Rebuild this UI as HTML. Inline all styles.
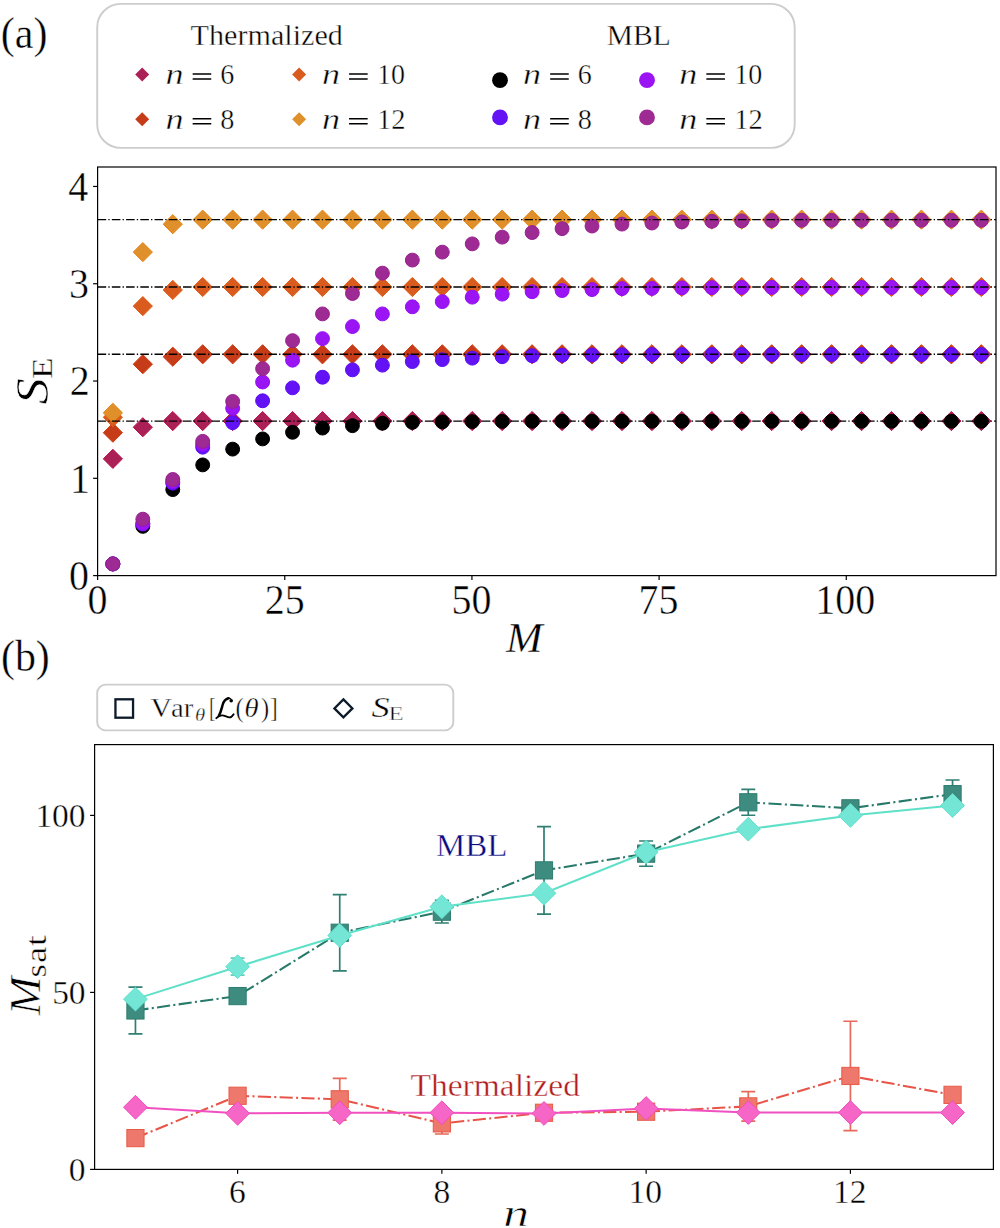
<!DOCTYPE html>
<html><head><meta charset="utf-8"><style>
html,body{margin:0;padding:0;background:#fff;}
body{width:1000px;height:1228px;overflow:hidden;font-family:"Liberation Serif",serif;}
svg{display:block;}
svg text{font-family:"Liberation Serif",serif;font-kerning:none;stroke:#fff;stroke-width:0.4px;}
</style></head><body>
<svg width="1000" height="1228" viewBox="0 0 1000 1228">
<rect width="1000" height="1228" fill="#fff"/>
<text transform="translate(0.75,48.30) scale(0.9673,1)" font-size="43.50" font-style="normal" fill="#000">(a)</text>
<rect x="97.2" y="3.9" width="697.5" height="144.0" rx="23.5" ry="23.5" fill="#fff" stroke="#cdcdcd" stroke-width="1.9"/>
<text transform="translate(190.56,45.40) scale(1.0438,1)" font-size="28.90" font-style="normal" fill="#000">Thermalized</text>
<text transform="translate(606.75,44.60) scale(1.0223,1)" font-size="28.90" font-style="normal" fill="#000">MBL</text>
<path d="M142.20 67.60L149.20 74.60L142.20 81.60L135.20 74.60Z" fill="#ab2157"/>
<text transform="translate(165.51,84.00) scale(1.2740,1)" font-size="28.40" font-style="italic" fill="#000">n</text>
<path d="M192.65 73.20h18.6v1.55h-18.6zM192.65 78.20h18.6v1.55h-18.6z" fill="#000"/>
<text transform="translate(220.19,84.00) scale(0.9890,1)" font-size="28.40" font-style="normal" fill="#000">6</text>
<path d="M142.20 112.20L149.20 119.20L142.20 126.20L135.20 119.20Z" fill="#c63c18"/>
<text transform="translate(165.51,128.80) scale(1.2740,1)" font-size="28.40" font-style="italic" fill="#000">n</text>
<path d="M192.65 118.00h18.6v1.55h-18.6zM192.65 123.00h18.6v1.55h-18.6z" fill="#000"/>
<text transform="translate(220.32,128.80) scale(0.9969,1)" font-size="28.40" font-style="normal" fill="#000">8</text>
<path d="M299.10 67.60L306.10 74.60L299.10 81.60L292.10 74.60Z" fill="#d95c1e"/>
<text transform="translate(321.91,84.00) scale(1.2740,1)" font-size="28.40" font-style="italic" fill="#000">n</text>
<path d="M349.05 73.20h18.6v1.55h-18.6zM349.05 78.20h18.6v1.55h-18.6z" fill="#000"/>
<text transform="translate(377.04,84.00) scale(0.9870,1)" font-size="28.40" font-style="normal" fill="#000">10</text>
<path d="M299.10 112.20L306.10 119.20L299.10 126.20L292.10 119.20Z" fill="#e0902b"/>
<text transform="translate(321.91,128.80) scale(1.2740,1)" font-size="28.40" font-style="italic" fill="#000">n</text>
<path d="M349.05 118.00h18.6v1.55h-18.6zM349.05 123.00h18.6v1.55h-18.6z" fill="#000"/>
<text transform="translate(376.99,128.80) scale(1.0067,1)" font-size="28.40" font-style="normal" fill="#000">12</text>
<circle cx="500.00" cy="80.20" r="7.9" fill="#000000"/>
<text transform="translate(523.01,84.00) scale(1.2740,1)" font-size="28.40" font-style="italic" fill="#000">n</text>
<path d="M550.15 73.20h18.6v1.55h-18.6zM550.15 78.20h18.6v1.55h-18.6z" fill="#000"/>
<text transform="translate(577.69,84.00) scale(0.9890,1)" font-size="28.40" font-style="normal" fill="#000">6</text>
<circle cx="500.00" cy="117.40" r="7.9" fill="#6312f6"/>
<text transform="translate(523.01,128.80) scale(1.2740,1)" font-size="28.40" font-style="italic" fill="#000">n</text>
<path d="M550.15 118.00h18.6v1.55h-18.6zM550.15 123.00h18.6v1.55h-18.6z" fill="#000"/>
<text transform="translate(577.82,128.80) scale(0.9969,1)" font-size="28.40" font-style="normal" fill="#000">8</text>
<circle cx="647.00" cy="80.20" r="7.9" fill="#9a14f4"/>
<text transform="translate(679.21,84.00) scale(1.2740,1)" font-size="28.40" font-style="italic" fill="#000">n</text>
<path d="M706.35 73.20h18.6v1.55h-18.6zM706.35 78.20h18.6v1.55h-18.6z" fill="#000"/>
<text transform="translate(734.34,84.00) scale(0.9870,1)" font-size="28.40" font-style="normal" fill="#000">10</text>
<circle cx="647.00" cy="117.40" r="7.9" fill="#9e2a93"/>
<text transform="translate(679.21,128.80) scale(1.2740,1)" font-size="28.40" font-style="italic" fill="#000">n</text>
<path d="M706.35 118.00h18.6v1.55h-18.6zM706.35 123.00h18.6v1.55h-18.6z" fill="#000"/>
<text transform="translate(734.29,128.80) scale(1.0067,1)" font-size="28.40" font-style="normal" fill="#000">12</text>
<g stroke="#000" stroke-width="1.2" fill="none">
<rect x="97.60" y="167.00" width="898.40" height="408.60"/>
<line x1="97.60" y1="575.60" x2="97.60" y2="580.10"/>
<line x1="284.77" y1="575.60" x2="284.77" y2="580.10"/>
<line x1="471.93" y1="575.60" x2="471.93" y2="580.10"/>
<line x1="659.10" y1="575.60" x2="659.10" y2="580.10"/>
<line x1="846.27" y1="575.60" x2="846.27" y2="580.10"/>
<line x1="93.10" y1="575.60" x2="97.60" y2="575.60"/>
<line x1="93.10" y1="478.31" x2="97.60" y2="478.31"/>
<line x1="93.10" y1="381.03" x2="97.60" y2="381.03"/>
<line x1="93.10" y1="283.74" x2="97.60" y2="283.74"/>
<line x1="93.10" y1="186.46" x2="97.60" y2="186.46"/>
</g>
<text transform="translate(87.62,614.30) scale(0.9550,1)" font-size="41.80" font-style="normal" fill="#000">0</text>
<text transform="translate(264.71,614.30) scale(0.9550,1)" font-size="41.80" font-style="normal" fill="#000">25</text>
<text transform="translate(451.57,614.30) scale(0.9550,1)" font-size="41.80" font-style="normal" fill="#000">50</text>
<text transform="translate(638.60,614.30) scale(0.9550,1)" font-size="41.80" font-style="normal" fill="#000">75</text>
<text transform="translate(815.33,614.30) scale(0.9550,1)" font-size="41.80" font-style="normal" fill="#000">100</text>
<text transform="translate(69.04,590.00) scale(0.9700,1)" font-size="41.20" font-style="normal" fill="#000">0</text>
<text transform="translate(69.92,492.71) scale(0.9700,1)" font-size="41.20" font-style="normal" fill="#000">1</text>
<text transform="translate(69.72,395.43) scale(0.9700,1)" font-size="41.20" font-style="normal" fill="#000">2</text>
<text transform="translate(69.08,298.14) scale(0.9700,1)" font-size="41.20" font-style="normal" fill="#000">3</text>
<text transform="translate(68.14,200.86) scale(0.9700,1)" font-size="41.20" font-style="normal" fill="#000">4</text>
<text transform="translate(506.12,652.00) scale(1.0657,1)" font-size="41.30" font-style="italic" fill="#000">M</text>
<text transform="translate(47.60,404.00) rotate(-90) translate(-0.62,0) scale(1.1265,1)" font-size="47.00" font-style="italic" fill="#000" style="stroke-width:0.55px">S</text>
<text transform="translate(52.00,378.00) rotate(-90) translate(-1.03,0) scale(1.2310,1)" font-size="29.00" font-style="normal" fill="#000">E</text>
<g>
<path d="M112.87 449.26L122.47 458.86L112.87 468.46L103.27 458.86Z" fill="#ab2157" stroke="#b81247" stroke-width="1"/>
<path d="M142.82 417.64L152.42 427.24L142.82 436.84L133.22 427.24Z" fill="#ab2157" stroke="#b81247" stroke-width="1"/>
<path d="M172.77 411.46L182.37 421.06L172.77 430.66L163.17 421.06Z" fill="#ab2157" stroke="#b81247" stroke-width="1"/>
<path d="M202.71 411.46L212.31 421.06L202.71 430.66L193.11 421.06Z" fill="#ab2157" stroke="#b81247" stroke-width="1"/>
<path d="M232.66 411.46L242.26 421.06L232.66 430.66L223.06 421.06Z" fill="#ab2157" stroke="#b81247" stroke-width="1"/>
<path d="M262.61 411.46L272.21 421.06L262.61 430.66L253.01 421.06Z" fill="#ab2157" stroke="#b81247" stroke-width="1"/>
<path d="M292.55 411.46L302.15 421.06L292.55 430.66L282.95 421.06Z" fill="#ab2157" stroke="#b81247" stroke-width="1"/>
<path d="M322.50 411.46L332.10 421.06L322.50 430.66L312.90 421.06Z" fill="#ab2157" stroke="#b81247" stroke-width="1"/>
<path d="M352.45 411.46L362.05 421.06L352.45 430.66L342.85 421.06Z" fill="#ab2157" stroke="#b81247" stroke-width="1"/>
<path d="M382.39 411.46L391.99 421.06L382.39 430.66L372.79 421.06Z" fill="#ab2157" stroke="#b81247" stroke-width="1"/>
<path d="M412.34 411.46L421.94 421.06L412.34 430.66L402.74 421.06Z" fill="#ab2157" stroke="#b81247" stroke-width="1"/>
<path d="M442.29 411.46L451.89 421.06L442.29 430.66L432.69 421.06Z" fill="#ab2157" stroke="#b81247" stroke-width="1"/>
<path d="M472.23 411.46L481.83 421.06L472.23 430.66L462.63 421.06Z" fill="#ab2157" stroke="#b81247" stroke-width="1"/>
<path d="M502.18 411.46L511.78 421.06L502.18 430.66L492.58 421.06Z" fill="#ab2157" stroke="#b81247" stroke-width="1"/>
<path d="M532.13 411.46L541.73 421.06L532.13 430.66L522.53 421.06Z" fill="#ab2157" stroke="#b81247" stroke-width="1"/>
<path d="M562.07 411.46L571.67 421.06L562.07 430.66L552.47 421.06Z" fill="#ab2157" stroke="#b81247" stroke-width="1"/>
<path d="M592.02 411.46L601.62 421.06L592.02 430.66L582.42 421.06Z" fill="#ab2157" stroke="#b81247" stroke-width="1"/>
<path d="M621.97 411.46L631.57 421.06L621.97 430.66L612.37 421.06Z" fill="#ab2157" stroke="#b81247" stroke-width="1"/>
<path d="M651.91 411.46L661.51 421.06L651.91 430.66L642.31 421.06Z" fill="#ab2157" stroke="#b81247" stroke-width="1"/>
<path d="M681.86 411.46L691.46 421.06L681.86 430.66L672.26 421.06Z" fill="#ab2157" stroke="#b81247" stroke-width="1"/>
<path d="M711.81 411.46L721.41 421.06L711.81 430.66L702.21 421.06Z" fill="#ab2157" stroke="#b81247" stroke-width="1"/>
<path d="M741.75 411.46L751.35 421.06L741.75 430.66L732.15 421.06Z" fill="#ab2157" stroke="#b81247" stroke-width="1"/>
<path d="M771.70 411.46L781.30 421.06L771.70 430.66L762.10 421.06Z" fill="#ab2157" stroke="#b81247" stroke-width="1"/>
<path d="M801.65 411.46L811.25 421.06L801.65 430.66L792.05 421.06Z" fill="#ab2157" stroke="#b81247" stroke-width="1"/>
<path d="M831.59 411.46L841.19 421.06L831.59 430.66L821.99 421.06Z" fill="#ab2157" stroke="#b81247" stroke-width="1"/>
<path d="M861.54 411.46L871.14 421.06L861.54 430.66L851.94 421.06Z" fill="#ab2157" stroke="#b81247" stroke-width="1"/>
<path d="M891.49 411.46L901.09 421.06L891.49 430.66L881.89 421.06Z" fill="#ab2157" stroke="#b81247" stroke-width="1"/>
<path d="M921.43 411.46L931.03 421.06L921.43 430.66L911.83 421.06Z" fill="#ab2157" stroke="#b81247" stroke-width="1"/>
<path d="M951.38 411.46L960.98 421.06L951.38 430.66L941.78 421.06Z" fill="#ab2157" stroke="#b81247" stroke-width="1"/>
<path d="M981.33 411.46L990.93 421.06L981.33 430.66L971.73 421.06Z" fill="#ab2157" stroke="#b81247" stroke-width="1"/>
<path d="M112.87 423.09L122.47 432.69L112.87 442.29L103.27 432.69Z" fill="#c63c18" stroke="#d23a12" stroke-width="1"/>
<path d="M142.82 354.60L152.42 364.20L142.82 373.80L133.22 364.20Z" fill="#c63c18" stroke="#d23a12" stroke-width="1"/>
<path d="M172.77 347.11L182.37 356.71L172.77 366.31L163.17 356.71Z" fill="#c63c18" stroke="#d23a12" stroke-width="1"/>
<path d="M202.71 344.68L212.31 354.28L202.71 363.88L193.11 354.28Z" fill="#c63c18" stroke="#d23a12" stroke-width="1"/>
<path d="M232.66 344.68L242.26 354.28L232.66 363.88L223.06 354.28Z" fill="#c63c18" stroke="#d23a12" stroke-width="1"/>
<path d="M262.61 344.68L272.21 354.28L262.61 363.88L253.01 354.28Z" fill="#c63c18" stroke="#d23a12" stroke-width="1"/>
<path d="M292.55 344.68L302.15 354.28L292.55 363.88L282.95 354.28Z" fill="#c63c18" stroke="#d23a12" stroke-width="1"/>
<path d="M322.50 344.68L332.10 354.28L322.50 363.88L312.90 354.28Z" fill="#c63c18" stroke="#d23a12" stroke-width="1"/>
<path d="M352.45 344.68L362.05 354.28L352.45 363.88L342.85 354.28Z" fill="#c63c18" stroke="#d23a12" stroke-width="1"/>
<path d="M382.39 344.68L391.99 354.28L382.39 363.88L372.79 354.28Z" fill="#c63c18" stroke="#d23a12" stroke-width="1"/>
<path d="M412.34 344.68L421.94 354.28L412.34 363.88L402.74 354.28Z" fill="#c63c18" stroke="#d23a12" stroke-width="1"/>
<path d="M442.29 344.68L451.89 354.28L442.29 363.88L432.69 354.28Z" fill="#c63c18" stroke="#d23a12" stroke-width="1"/>
<path d="M472.23 344.68L481.83 354.28L472.23 363.88L462.63 354.28Z" fill="#c63c18" stroke="#d23a12" stroke-width="1"/>
<path d="M502.18 344.68L511.78 354.28L502.18 363.88L492.58 354.28Z" fill="#c63c18" stroke="#d23a12" stroke-width="1"/>
<path d="M532.13 344.68L541.73 354.28L532.13 363.88L522.53 354.28Z" fill="#c63c18" stroke="#d23a12" stroke-width="1"/>
<path d="M562.07 344.68L571.67 354.28L562.07 363.88L552.47 354.28Z" fill="#c63c18" stroke="#d23a12" stroke-width="1"/>
<path d="M592.02 344.68L601.62 354.28L592.02 363.88L582.42 354.28Z" fill="#c63c18" stroke="#d23a12" stroke-width="1"/>
<path d="M621.97 344.68L631.57 354.28L621.97 363.88L612.37 354.28Z" fill="#c63c18" stroke="#d23a12" stroke-width="1"/>
<path d="M651.91 344.68L661.51 354.28L651.91 363.88L642.31 354.28Z" fill="#c63c18" stroke="#d23a12" stroke-width="1"/>
<path d="M681.86 344.68L691.46 354.28L681.86 363.88L672.26 354.28Z" fill="#c63c18" stroke="#d23a12" stroke-width="1"/>
<path d="M711.81 344.68L721.41 354.28L711.81 363.88L702.21 354.28Z" fill="#c63c18" stroke="#d23a12" stroke-width="1"/>
<path d="M741.75 344.68L751.35 354.28L741.75 363.88L732.15 354.28Z" fill="#c63c18" stroke="#d23a12" stroke-width="1"/>
<path d="M771.70 344.68L781.30 354.28L771.70 363.88L762.10 354.28Z" fill="#c63c18" stroke="#d23a12" stroke-width="1"/>
<path d="M801.65 344.68L811.25 354.28L801.65 363.88L792.05 354.28Z" fill="#c63c18" stroke="#d23a12" stroke-width="1"/>
<path d="M831.59 344.68L841.19 354.28L831.59 363.88L821.99 354.28Z" fill="#c63c18" stroke="#d23a12" stroke-width="1"/>
<path d="M861.54 344.68L871.14 354.28L861.54 363.88L851.94 354.28Z" fill="#c63c18" stroke="#d23a12" stroke-width="1"/>
<path d="M891.49 344.68L901.09 354.28L891.49 363.88L881.89 354.28Z" fill="#c63c18" stroke="#d23a12" stroke-width="1"/>
<path d="M921.43 344.68L931.03 354.28L921.43 363.88L911.83 354.28Z" fill="#c63c18" stroke="#d23a12" stroke-width="1"/>
<path d="M951.38 344.68L960.98 354.28L951.38 363.88L941.78 354.28Z" fill="#c63c18" stroke="#d23a12" stroke-width="1"/>
<path d="M981.33 344.68L990.93 354.28L981.33 363.88L971.73 354.28Z" fill="#c63c18" stroke="#d23a12" stroke-width="1"/>
<path d="M112.87 407.72L122.47 417.32L112.87 426.92L103.27 417.32Z" fill="#d95c1e" stroke="#e25a14" stroke-width="1"/>
<path d="M142.82 296.52L152.42 306.12L142.82 315.72L133.22 306.12Z" fill="#d95c1e" stroke="#e25a14" stroke-width="1"/>
<path d="M172.77 280.37L182.37 289.97L172.77 299.57L163.17 289.97Z" fill="#d95c1e" stroke="#e25a14" stroke-width="1"/>
<path d="M202.71 277.42L212.31 287.02L202.71 296.62L193.11 287.02Z" fill="#d95c1e" stroke="#e25a14" stroke-width="1"/>
<path d="M232.66 277.42L242.26 287.02L232.66 296.62L223.06 287.02Z" fill="#d95c1e" stroke="#e25a14" stroke-width="1"/>
<path d="M262.61 277.42L272.21 287.02L262.61 296.62L253.01 287.02Z" fill="#d95c1e" stroke="#e25a14" stroke-width="1"/>
<path d="M292.55 277.42L302.15 287.02L292.55 296.62L282.95 287.02Z" fill="#d95c1e" stroke="#e25a14" stroke-width="1"/>
<path d="M322.50 277.42L332.10 287.02L322.50 296.62L312.90 287.02Z" fill="#d95c1e" stroke="#e25a14" stroke-width="1"/>
<path d="M352.45 277.42L362.05 287.02L352.45 296.62L342.85 287.02Z" fill="#d95c1e" stroke="#e25a14" stroke-width="1"/>
<path d="M382.39 277.42L391.99 287.02L382.39 296.62L372.79 287.02Z" fill="#d95c1e" stroke="#e25a14" stroke-width="1"/>
<path d="M412.34 277.42L421.94 287.02L412.34 296.62L402.74 287.02Z" fill="#d95c1e" stroke="#e25a14" stroke-width="1"/>
<path d="M442.29 277.42L451.89 287.02L442.29 296.62L432.69 287.02Z" fill="#d95c1e" stroke="#e25a14" stroke-width="1"/>
<path d="M472.23 277.42L481.83 287.02L472.23 296.62L462.63 287.02Z" fill="#d95c1e" stroke="#e25a14" stroke-width="1"/>
<path d="M502.18 277.42L511.78 287.02L502.18 296.62L492.58 287.02Z" fill="#d95c1e" stroke="#e25a14" stroke-width="1"/>
<path d="M532.13 277.42L541.73 287.02L532.13 296.62L522.53 287.02Z" fill="#d95c1e" stroke="#e25a14" stroke-width="1"/>
<path d="M562.07 277.42L571.67 287.02L562.07 296.62L552.47 287.02Z" fill="#d95c1e" stroke="#e25a14" stroke-width="1"/>
<path d="M592.02 277.42L601.62 287.02L592.02 296.62L582.42 287.02Z" fill="#d95c1e" stroke="#e25a14" stroke-width="1"/>
<path d="M621.97 277.42L631.57 287.02L621.97 296.62L612.37 287.02Z" fill="#d95c1e" stroke="#e25a14" stroke-width="1"/>
<path d="M651.91 277.42L661.51 287.02L651.91 296.62L642.31 287.02Z" fill="#d95c1e" stroke="#e25a14" stroke-width="1"/>
<path d="M681.86 277.42L691.46 287.02L681.86 296.62L672.26 287.02Z" fill="#d95c1e" stroke="#e25a14" stroke-width="1"/>
<path d="M711.81 277.42L721.41 287.02L711.81 296.62L702.21 287.02Z" fill="#d95c1e" stroke="#e25a14" stroke-width="1"/>
<path d="M741.75 277.42L751.35 287.02L741.75 296.62L732.15 287.02Z" fill="#d95c1e" stroke="#e25a14" stroke-width="1"/>
<path d="M771.70 277.42L781.30 287.02L771.70 296.62L762.10 287.02Z" fill="#d95c1e" stroke="#e25a14" stroke-width="1"/>
<path d="M801.65 277.42L811.25 287.02L801.65 296.62L792.05 287.02Z" fill="#d95c1e" stroke="#e25a14" stroke-width="1"/>
<path d="M831.59 277.42L841.19 287.02L831.59 296.62L821.99 287.02Z" fill="#d95c1e" stroke="#e25a14" stroke-width="1"/>
<path d="M861.54 277.42L871.14 287.02L861.54 296.62L851.94 287.02Z" fill="#d95c1e" stroke="#e25a14" stroke-width="1"/>
<path d="M891.49 277.42L901.09 287.02L891.49 296.62L881.89 287.02Z" fill="#d95c1e" stroke="#e25a14" stroke-width="1"/>
<path d="M921.43 277.42L931.03 287.02L921.43 296.62L911.83 287.02Z" fill="#d95c1e" stroke="#e25a14" stroke-width="1"/>
<path d="M951.38 277.42L960.98 287.02L951.38 296.62L941.78 287.02Z" fill="#d95c1e" stroke="#e25a14" stroke-width="1"/>
<path d="M981.33 277.42L990.93 287.02L981.33 296.62L971.73 287.02Z" fill="#d95c1e" stroke="#e25a14" stroke-width="1"/>
<path d="M112.87 403.24L122.47 412.84L112.87 422.44L103.27 412.84Z" fill="#e0902b" stroke="#e5861a" stroke-width="1"/>
<path d="M142.82 242.53L152.42 252.12L142.82 261.73L133.22 252.12Z" fill="#e0902b" stroke="#e5861a" stroke-width="1"/>
<path d="M172.77 214.60L182.37 224.20L172.77 233.80L163.17 224.20Z" fill="#e0902b" stroke="#e5861a" stroke-width="1"/>
<path d="M202.71 210.03L212.31 219.63L202.71 229.23L193.11 219.63Z" fill="#e0902b" stroke="#e5861a" stroke-width="1"/>
<path d="M232.66 210.03L242.26 219.63L232.66 229.23L223.06 219.63Z" fill="#e0902b" stroke="#e5861a" stroke-width="1"/>
<path d="M262.61 210.03L272.21 219.63L262.61 229.23L253.01 219.63Z" fill="#e0902b" stroke="#e5861a" stroke-width="1"/>
<path d="M292.55 210.03L302.15 219.63L292.55 229.23L282.95 219.63Z" fill="#e0902b" stroke="#e5861a" stroke-width="1"/>
<path d="M322.50 210.03L332.10 219.63L322.50 229.23L312.90 219.63Z" fill="#e0902b" stroke="#e5861a" stroke-width="1"/>
<path d="M352.45 210.03L362.05 219.63L352.45 229.23L342.85 219.63Z" fill="#e0902b" stroke="#e5861a" stroke-width="1"/>
<path d="M382.39 210.03L391.99 219.63L382.39 229.23L372.79 219.63Z" fill="#e0902b" stroke="#e5861a" stroke-width="1"/>
<path d="M412.34 210.03L421.94 219.63L412.34 229.23L402.74 219.63Z" fill="#e0902b" stroke="#e5861a" stroke-width="1"/>
<path d="M442.29 210.03L451.89 219.63L442.29 229.23L432.69 219.63Z" fill="#e0902b" stroke="#e5861a" stroke-width="1"/>
<path d="M472.23 210.03L481.83 219.63L472.23 229.23L462.63 219.63Z" fill="#e0902b" stroke="#e5861a" stroke-width="1"/>
<path d="M502.18 210.03L511.78 219.63L502.18 229.23L492.58 219.63Z" fill="#e0902b" stroke="#e5861a" stroke-width="1"/>
<path d="M532.13 210.03L541.73 219.63L532.13 229.23L522.53 219.63Z" fill="#e0902b" stroke="#e5861a" stroke-width="1"/>
<path d="M562.07 210.03L571.67 219.63L562.07 229.23L552.47 219.63Z" fill="#e0902b" stroke="#e5861a" stroke-width="1"/>
<path d="M592.02 210.03L601.62 219.63L592.02 229.23L582.42 219.63Z" fill="#e0902b" stroke="#e5861a" stroke-width="1"/>
<path d="M621.97 210.03L631.57 219.63L621.97 229.23L612.37 219.63Z" fill="#e0902b" stroke="#e5861a" stroke-width="1"/>
<path d="M651.91 210.03L661.51 219.63L651.91 229.23L642.31 219.63Z" fill="#e0902b" stroke="#e5861a" stroke-width="1"/>
<path d="M681.86 210.03L691.46 219.63L681.86 229.23L672.26 219.63Z" fill="#e0902b" stroke="#e5861a" stroke-width="1"/>
<path d="M711.81 210.03L721.41 219.63L711.81 229.23L702.21 219.63Z" fill="#e0902b" stroke="#e5861a" stroke-width="1"/>
<path d="M741.75 210.03L751.35 219.63L741.75 229.23L732.15 219.63Z" fill="#e0902b" stroke="#e5861a" stroke-width="1"/>
<path d="M771.70 210.03L781.30 219.63L771.70 229.23L762.10 219.63Z" fill="#e0902b" stroke="#e5861a" stroke-width="1"/>
<path d="M801.65 210.03L811.25 219.63L801.65 229.23L792.05 219.63Z" fill="#e0902b" stroke="#e5861a" stroke-width="1"/>
<path d="M831.59 210.03L841.19 219.63L831.59 229.23L821.99 219.63Z" fill="#e0902b" stroke="#e5861a" stroke-width="1"/>
<path d="M861.54 210.03L871.14 219.63L861.54 229.23L851.94 219.63Z" fill="#e0902b" stroke="#e5861a" stroke-width="1"/>
<path d="M891.49 210.03L901.09 219.63L891.49 229.23L881.89 219.63Z" fill="#e0902b" stroke="#e5861a" stroke-width="1"/>
<path d="M921.43 210.03L931.03 219.63L921.43 229.23L911.83 219.63Z" fill="#e0902b" stroke="#e5861a" stroke-width="1"/>
<path d="M951.38 210.03L960.98 219.63L951.38 229.23L941.78 219.63Z" fill="#e0902b" stroke="#e5861a" stroke-width="1"/>
<path d="M981.33 210.03L990.93 219.63L981.33 229.23L971.73 219.63Z" fill="#e0902b" stroke="#e5861a" stroke-width="1"/>
<circle cx="112.87" cy="563.93" r="6.95" fill="#000000" stroke="#000000" stroke-width="1"/>
<circle cx="142.82" cy="526.37" r="6.95" fill="#000000" stroke="#000000" stroke-width="1"/>
<circle cx="172.77" cy="489.60" r="6.95" fill="#000000" stroke="#000000" stroke-width="1"/>
<circle cx="202.71" cy="464.89" r="6.95" fill="#000000" stroke="#000000" stroke-width="1"/>
<circle cx="232.66" cy="449.13" r="6.95" fill="#000000" stroke="#000000" stroke-width="1"/>
<circle cx="262.61" cy="438.91" r="6.95" fill="#000000" stroke="#000000" stroke-width="1"/>
<circle cx="292.55" cy="432.30" r="6.95" fill="#000000" stroke="#000000" stroke-width="1"/>
<circle cx="322.50" cy="428.11" r="6.95" fill="#000000" stroke="#000000" stroke-width="1"/>
<circle cx="352.45" cy="425.68" r="6.95" fill="#000000" stroke="#000000" stroke-width="1"/>
<circle cx="382.39" cy="423.25" r="6.95" fill="#000000" stroke="#000000" stroke-width="1"/>
<circle cx="412.34" cy="422.38" r="6.95" fill="#000000" stroke="#000000" stroke-width="1"/>
<circle cx="442.29" cy="421.89" r="6.95" fill="#000000" stroke="#000000" stroke-width="1"/>
<circle cx="472.23" cy="421.60" r="6.95" fill="#000000" stroke="#000000" stroke-width="1"/>
<circle cx="502.18" cy="421.40" r="6.95" fill="#000000" stroke="#000000" stroke-width="1"/>
<circle cx="532.13" cy="421.26" r="6.95" fill="#000000" stroke="#000000" stroke-width="1"/>
<circle cx="562.07" cy="421.26" r="6.95" fill="#000000" stroke="#000000" stroke-width="1"/>
<circle cx="592.02" cy="421.26" r="6.95" fill="#000000" stroke="#000000" stroke-width="1"/>
<circle cx="621.97" cy="421.26" r="6.95" fill="#000000" stroke="#000000" stroke-width="1"/>
<circle cx="651.91" cy="421.26" r="6.95" fill="#000000" stroke="#000000" stroke-width="1"/>
<circle cx="681.86" cy="421.26" r="6.95" fill="#000000" stroke="#000000" stroke-width="1"/>
<circle cx="711.81" cy="421.26" r="6.95" fill="#000000" stroke="#000000" stroke-width="1"/>
<circle cx="741.75" cy="421.26" r="6.95" fill="#000000" stroke="#000000" stroke-width="1"/>
<circle cx="771.70" cy="421.26" r="6.95" fill="#000000" stroke="#000000" stroke-width="1"/>
<circle cx="801.65" cy="421.26" r="6.95" fill="#000000" stroke="#000000" stroke-width="1"/>
<circle cx="831.59" cy="421.26" r="6.95" fill="#000000" stroke="#000000" stroke-width="1"/>
<circle cx="861.54" cy="421.26" r="6.95" fill="#000000" stroke="#000000" stroke-width="1"/>
<circle cx="891.49" cy="421.26" r="6.95" fill="#000000" stroke="#000000" stroke-width="1"/>
<circle cx="921.43" cy="421.26" r="6.95" fill="#000000" stroke="#000000" stroke-width="1"/>
<circle cx="951.38" cy="421.26" r="6.95" fill="#000000" stroke="#000000" stroke-width="1"/>
<circle cx="981.33" cy="421.26" r="6.95" fill="#000000" stroke="#000000" stroke-width="1"/>
<circle cx="112.87" cy="563.93" r="6.95" fill="#6312f6" stroke="#5a0cf2" stroke-width="1"/>
<circle cx="142.82" cy="524.04" r="6.95" fill="#6312f6" stroke="#5a0cf2" stroke-width="1"/>
<circle cx="172.77" cy="483.18" r="6.95" fill="#6312f6" stroke="#5a0cf2" stroke-width="1"/>
<circle cx="202.71" cy="447.18" r="6.95" fill="#6312f6" stroke="#5a0cf2" stroke-width="1"/>
<circle cx="232.66" cy="422.67" r="6.95" fill="#6312f6" stroke="#5a0cf2" stroke-width="1"/>
<circle cx="262.61" cy="400.78" r="6.95" fill="#6312f6" stroke="#5a0cf2" stroke-width="1"/>
<circle cx="292.55" cy="387.84" r="6.95" fill="#6312f6" stroke="#5a0cf2" stroke-width="1"/>
<circle cx="322.50" cy="377.23" r="6.95" fill="#6312f6" stroke="#5a0cf2" stroke-width="1"/>
<circle cx="352.45" cy="369.84" r="6.95" fill="#6312f6" stroke="#5a0cf2" stroke-width="1"/>
<circle cx="382.39" cy="365.17" r="6.95" fill="#6312f6" stroke="#5a0cf2" stroke-width="1"/>
<circle cx="412.34" cy="361.57" r="6.95" fill="#6312f6" stroke="#5a0cf2" stroke-width="1"/>
<circle cx="442.29" cy="359.63" r="6.95" fill="#6312f6" stroke="#5a0cf2" stroke-width="1"/>
<circle cx="472.23" cy="358.17" r="6.95" fill="#6312f6" stroke="#5a0cf2" stroke-width="1"/>
<circle cx="502.18" cy="356.71" r="6.95" fill="#6312f6" stroke="#5a0cf2" stroke-width="1"/>
<circle cx="532.13" cy="355.73" r="6.95" fill="#6312f6" stroke="#5a0cf2" stroke-width="1"/>
<circle cx="562.07" cy="355.25" r="6.95" fill="#6312f6" stroke="#5a0cf2" stroke-width="1"/>
<circle cx="592.02" cy="354.96" r="6.95" fill="#6312f6" stroke="#5a0cf2" stroke-width="1"/>
<circle cx="621.97" cy="354.76" r="6.95" fill="#6312f6" stroke="#5a0cf2" stroke-width="1"/>
<circle cx="651.91" cy="354.57" r="6.95" fill="#6312f6" stroke="#5a0cf2" stroke-width="1"/>
<circle cx="681.86" cy="354.57" r="6.95" fill="#6312f6" stroke="#5a0cf2" stroke-width="1"/>
<circle cx="711.81" cy="354.57" r="6.95" fill="#6312f6" stroke="#5a0cf2" stroke-width="1"/>
<circle cx="741.75" cy="354.57" r="6.95" fill="#6312f6" stroke="#5a0cf2" stroke-width="1"/>
<circle cx="771.70" cy="354.57" r="6.95" fill="#6312f6" stroke="#5a0cf2" stroke-width="1"/>
<circle cx="801.65" cy="354.57" r="6.95" fill="#6312f6" stroke="#5a0cf2" stroke-width="1"/>
<circle cx="831.59" cy="354.57" r="6.95" fill="#6312f6" stroke="#5a0cf2" stroke-width="1"/>
<circle cx="861.54" cy="354.57" r="6.95" fill="#6312f6" stroke="#5a0cf2" stroke-width="1"/>
<circle cx="891.49" cy="354.57" r="6.95" fill="#6312f6" stroke="#5a0cf2" stroke-width="1"/>
<circle cx="921.43" cy="354.57" r="6.95" fill="#6312f6" stroke="#5a0cf2" stroke-width="1"/>
<circle cx="951.38" cy="354.57" r="6.95" fill="#6312f6" stroke="#5a0cf2" stroke-width="1"/>
<circle cx="981.33" cy="354.57" r="6.95" fill="#6312f6" stroke="#5a0cf2" stroke-width="1"/>
<circle cx="112.87" cy="563.93" r="6.95" fill="#9a14f4" stroke="#920ff6" stroke-width="1"/>
<circle cx="142.82" cy="523.55" r="6.95" fill="#9a14f4" stroke="#920ff6" stroke-width="1"/>
<circle cx="172.77" cy="481.52" r="6.95" fill="#9a14f4" stroke="#920ff6" stroke-width="1"/>
<circle cx="202.71" cy="444.26" r="6.95" fill="#9a14f4" stroke="#920ff6" stroke-width="1"/>
<circle cx="232.66" cy="408.27" r="6.95" fill="#9a14f4" stroke="#920ff6" stroke-width="1"/>
<circle cx="262.61" cy="382.00" r="6.95" fill="#9a14f4" stroke="#920ff6" stroke-width="1"/>
<circle cx="292.55" cy="360.21" r="6.95" fill="#9a14f4" stroke="#920ff6" stroke-width="1"/>
<circle cx="322.50" cy="338.61" r="6.95" fill="#9a14f4" stroke="#920ff6" stroke-width="1"/>
<circle cx="352.45" cy="326.55" r="6.95" fill="#9a14f4" stroke="#920ff6" stroke-width="1"/>
<circle cx="382.39" cy="313.90" r="6.95" fill="#9a14f4" stroke="#920ff6" stroke-width="1"/>
<circle cx="412.34" cy="306.80" r="6.95" fill="#9a14f4" stroke="#920ff6" stroke-width="1"/>
<circle cx="442.29" cy="301.64" r="6.95" fill="#9a14f4" stroke="#920ff6" stroke-width="1"/>
<circle cx="472.23" cy="297.17" r="6.95" fill="#9a14f4" stroke="#920ff6" stroke-width="1"/>
<circle cx="502.18" cy="294.15" r="6.95" fill="#9a14f4" stroke="#920ff6" stroke-width="1"/>
<circle cx="532.13" cy="291.72" r="6.95" fill="#9a14f4" stroke="#920ff6" stroke-width="1"/>
<circle cx="562.07" cy="290.55" r="6.95" fill="#9a14f4" stroke="#920ff6" stroke-width="1"/>
<circle cx="592.02" cy="289.58" r="6.95" fill="#9a14f4" stroke="#920ff6" stroke-width="1"/>
<circle cx="621.97" cy="288.61" r="6.95" fill="#9a14f4" stroke="#920ff6" stroke-width="1"/>
<circle cx="651.91" cy="288.41" r="6.95" fill="#9a14f4" stroke="#920ff6" stroke-width="1"/>
<circle cx="681.86" cy="287.93" r="6.95" fill="#9a14f4" stroke="#920ff6" stroke-width="1"/>
<circle cx="711.81" cy="287.63" r="6.95" fill="#9a14f4" stroke="#920ff6" stroke-width="1"/>
<circle cx="741.75" cy="287.44" r="6.95" fill="#9a14f4" stroke="#920ff6" stroke-width="1"/>
<circle cx="771.70" cy="287.44" r="6.95" fill="#9a14f4" stroke="#920ff6" stroke-width="1"/>
<circle cx="801.65" cy="287.44" r="6.95" fill="#9a14f4" stroke="#920ff6" stroke-width="1"/>
<circle cx="831.59" cy="287.44" r="6.95" fill="#9a14f4" stroke="#920ff6" stroke-width="1"/>
<circle cx="861.54" cy="287.44" r="6.95" fill="#9a14f4" stroke="#920ff6" stroke-width="1"/>
<circle cx="891.49" cy="287.44" r="6.95" fill="#9a14f4" stroke="#920ff6" stroke-width="1"/>
<circle cx="921.43" cy="287.44" r="6.95" fill="#9a14f4" stroke="#920ff6" stroke-width="1"/>
<circle cx="951.38" cy="287.44" r="6.95" fill="#9a14f4" stroke="#920ff6" stroke-width="1"/>
<circle cx="981.33" cy="287.44" r="6.95" fill="#9a14f4" stroke="#920ff6" stroke-width="1"/>
<circle cx="112.87" cy="563.93" r="6.95" fill="#9e2a93" stroke="#982190" stroke-width="1"/>
<circle cx="142.82" cy="519.17" r="6.95" fill="#9e2a93" stroke="#982190" stroke-width="1"/>
<circle cx="172.77" cy="479.48" r="6.95" fill="#9e2a93" stroke="#982190" stroke-width="1"/>
<circle cx="202.71" cy="441.35" r="6.95" fill="#9e2a93" stroke="#982190" stroke-width="1"/>
<circle cx="232.66" cy="401.46" r="6.95" fill="#9e2a93" stroke="#982190" stroke-width="1"/>
<circle cx="262.61" cy="368.67" r="6.95" fill="#9e2a93" stroke="#982190" stroke-width="1"/>
<circle cx="292.55" cy="340.65" r="6.95" fill="#9e2a93" stroke="#982190" stroke-width="1"/>
<circle cx="322.50" cy="313.90" r="6.95" fill="#9e2a93" stroke="#982190" stroke-width="1"/>
<circle cx="352.45" cy="293.47" r="6.95" fill="#9e2a93" stroke="#982190" stroke-width="1"/>
<circle cx="382.39" cy="273.14" r="6.95" fill="#9e2a93" stroke="#982190" stroke-width="1"/>
<circle cx="412.34" cy="260.10" r="6.95" fill="#9e2a93" stroke="#982190" stroke-width="1"/>
<circle cx="442.29" cy="252.12" r="6.95" fill="#9e2a93" stroke="#982190" stroke-width="1"/>
<circle cx="472.23" cy="243.86" r="6.95" fill="#9e2a93" stroke="#982190" stroke-width="1"/>
<circle cx="502.18" cy="237.14" r="6.95" fill="#9e2a93" stroke="#982190" stroke-width="1"/>
<circle cx="532.13" cy="232.57" r="6.95" fill="#9e2a93" stroke="#982190" stroke-width="1"/>
<circle cx="562.07" cy="228.68" r="6.95" fill="#9e2a93" stroke="#982190" stroke-width="1"/>
<circle cx="592.02" cy="226.05" r="6.95" fill="#9e2a93" stroke="#982190" stroke-width="1"/>
<circle cx="621.97" cy="224.11" r="6.95" fill="#9e2a93" stroke="#982190" stroke-width="1"/>
<circle cx="651.91" cy="223.04" r="6.95" fill="#9e2a93" stroke="#982190" stroke-width="1"/>
<circle cx="681.86" cy="221.97" r="6.95" fill="#9e2a93" stroke="#982190" stroke-width="1"/>
<circle cx="711.81" cy="221.29" r="6.95" fill="#9e2a93" stroke="#982190" stroke-width="1"/>
<circle cx="741.75" cy="220.90" r="6.95" fill="#9e2a93" stroke="#982190" stroke-width="1"/>
<circle cx="771.70" cy="220.51" r="6.95" fill="#9e2a93" stroke="#982190" stroke-width="1"/>
<circle cx="801.65" cy="220.31" r="6.95" fill="#9e2a93" stroke="#982190" stroke-width="1"/>
<circle cx="831.59" cy="220.31" r="6.95" fill="#9e2a93" stroke="#982190" stroke-width="1"/>
<circle cx="861.54" cy="220.31" r="6.95" fill="#9e2a93" stroke="#982190" stroke-width="1"/>
<circle cx="891.49" cy="220.31" r="6.95" fill="#9e2a93" stroke="#982190" stroke-width="1"/>
<circle cx="921.43" cy="220.31" r="6.95" fill="#9e2a93" stroke="#982190" stroke-width="1"/>
<circle cx="951.38" cy="220.31" r="6.95" fill="#9e2a93" stroke="#982190" stroke-width="1"/>
<circle cx="981.33" cy="220.31" r="6.95" fill="#9e2a93" stroke="#982190" stroke-width="1"/>
</g>
<g stroke="#000" stroke-width="1.34" stroke-dasharray="8.59 2.15 1.34 2.15" fill="none">
<line x1="97.60" y1="421.06" x2="996.00" y2="421.06"/>
<line x1="97.60" y1="354.28" x2="996.00" y2="354.28"/>
<line x1="97.60" y1="287.02" x2="996.00" y2="287.02"/>
<line x1="97.60" y1="219.63" x2="996.00" y2="219.63"/>
</g>
<text transform="translate(0.96,670.50) scale(0.9638,1)" font-size="43.50" font-style="normal" fill="#000">(b)</text>
<rect x="97.2" y="684.6" width="356.1" height="45.8" rx="8.5" ry="8.5" fill="#fff" stroke="#cdcdcd" stroke-width="1.9"/>
<rect x="115.45" y="699.3" width="17.6" height="18.4" fill="none" stroke="#0d1a28" stroke-width="2.3"/>
<path d="M343.40 699.40L352.40 708.40L343.40 717.40L334.40 708.40Z" fill="none" stroke="#0d1a28" stroke-width="2.3" stroke-linejoin="miter"/>
<text transform="translate(150.57,717.20) scale(1.0566,1)" font-size="28.00" font-style="normal" fill="#000">V</text>
<text transform="translate(170.99,717.20) scale(1.0233,1)" font-size="28.00" font-style="normal" fill="#000">ar</text>
<text transform="translate(195.09,721.20) scale(1.0930,1)" font-size="19.00" font-style="italic" fill="#000">θ</text>
<text transform="translate(209.27,717.20) scale(0.6416,1)" font-size="28.00" font-style="normal" fill="#000">[</text>
<text transform="translate(235.62,717.20) scale(0.8760,1)" font-size="28.00" font-style="normal" fill="#000">(</text>
<text transform="translate(244.37,717.20) scale(1.0486,1)" font-size="28.00" font-style="italic" fill="#000">θ</text>
<text transform="translate(261.11,717.20) scale(0.8760,1)" font-size="28.00" font-style="normal" fill="#000">)</text>
<text transform="translate(270.20,717.20) scale(0.7860,1)" font-size="28.00" font-style="normal" fill="#000">]</text>
<g fill="none" stroke="#000" stroke-linecap="round"><path d="M228.5 698.3 C225.5 699 223.6 701.5 222.6 705 C221.6 708.5 220.8 712.5 218.8 715.8" stroke-width="2.5"/><path d="M231 699.2 C229.5 697.6 227.5 698 226 699.2" stroke-width="1.2"/><path d="M216.3 718.2 C218 716.5 219.5 715.3 222 715.4 C225 715.5 227 717.3 229.5 717.4 C231.3 717.4 232.6 715.8 233.6 714.2" stroke-width="1.9"/></g><circle cx="231.2" cy="700.7" r="1.8" fill="#000"/>
<text transform="translate(371.38,716.80) scale(1.2277,1)" font-size="29.50" font-style="italic" fill="#000">S</text>
<text transform="translate(388.49,720.40) scale(1.3406,1)" font-size="18.50" font-style="normal" fill="#000">E</text>
<g stroke="#000" stroke-width="1.2" fill="none">
<rect x="94.60" y="744.60" width="898.80" height="424.80"/>
<line x1="237.59" y1="1169.40" x2="237.59" y2="1173.80"/>
<line x1="441.86" y1="1169.40" x2="441.86" y2="1173.80"/>
<line x1="646.14" y1="1169.40" x2="646.14" y2="1173.80"/>
<line x1="850.41" y1="1169.40" x2="850.41" y2="1173.80"/>
<line x1="90.10" y1="1169.40" x2="94.60" y2="1169.40"/>
<line x1="90.10" y1="992.40" x2="94.60" y2="992.40"/>
<line x1="90.10" y1="815.40" x2="94.60" y2="815.40"/>
</g>
<text transform="translate(228.98,1202.90) scale(0.9700,1)" font-size="34.60" font-style="normal" fill="#000">6</text>
<text transform="translate(433.47,1202.90) scale(0.9700,1)" font-size="34.60" font-style="normal" fill="#000">8</text>
<text transform="translate(628.52,1202.90) scale(0.9700,1)" font-size="34.60" font-style="normal" fill="#000">10</text>
<text transform="translate(833.08,1202.90) scale(0.9700,1)" font-size="34.60" font-style="normal" fill="#000">12</text>
<text transform="translate(68.85,1181.10) scale(0.9750,1)" font-size="34.30" font-style="normal" fill="#000">0</text>
<text transform="translate(52.13,1004.10) scale(0.9750,1)" font-size="34.30" font-style="normal" fill="#000">50</text>
<text transform="translate(35.41,827.10) scale(0.9750,1)" font-size="34.30" font-style="normal" fill="#000">100</text>
<text transform="translate(503.16,1225.60) scale(1.3934,1)" font-size="37.00" font-style="italic" fill="#000" style="stroke-width:0.55px">n</text>
<text transform="translate(39.90,1015.80) rotate(-90) translate(0.55,0) scale(1.0403,1)" font-size="44.90" font-style="italic" fill="#000" style="stroke-width:0.55px">M</text>
<text transform="translate(45.70,976.00) rotate(-90) translate(-1.39,0) scale(1.1837,1)" font-size="28.70" font-style="normal" fill="#000">s</text>
<text transform="translate(45.70,961.70) rotate(-90) translate(-1.30,0) scale(1.2878,1)" font-size="28.70" font-style="normal" fill="#000">a</text>
<text transform="translate(45.70,945.90) rotate(-90) translate(-0.39,0) scale(1.4086,1)" font-size="28.70" font-style="normal" fill="#000">t</text>
<g stroke="#2f7f72" stroke-width="1.7" fill="none">
<path d="M135.45 1033.82V987.09M128.45 1033.82H142.45M128.45 987.09H142.45"/>
<path d="M237.59 998.21V993.96M230.59 998.21H244.59M230.59 993.96H244.59"/>
<path d="M339.73 970.81V894.70M332.73 970.81H346.73M332.73 894.70H346.73"/>
<path d="M441.86 923.02V900.36M434.86 923.02H448.86M434.86 900.36H448.86"/>
<path d="M544.00 914.10V826.66M537.00 914.10H551.00M537.00 826.66H551.00"/>
<path d="M646.14 866.27V840.99M639.14 866.27H653.14M639.14 840.99H653.14"/>
<path d="M748.27 815.26V789.35M741.27 815.26H755.27M741.27 789.35H755.27"/>
<path d="M850.41 811.86V804.78M843.41 811.86H857.41M843.41 804.78H857.41"/>
<path d="M952.55 808.32V780.00M945.55 808.32H959.55M945.55 780.00H959.55"/>
</g>
<polyline points="135.45,1010.45 237.59,996.08 339.73,932.75 441.86,911.69 544.00,870.38 646.14,853.63 748.27,802.30 850.41,808.32 952.55,794.16" fill="none" stroke="#277a6a" stroke-width="2.05" stroke-dasharray="13.16 3.29 2.06 3.29"/>
<rect x="126.85" y="1001.85" width="17.2" height="17.2" fill="#3e8c80" stroke="#2a7d6e" stroke-width="1"/>
<rect x="228.99" y="987.48" width="17.2" height="17.2" fill="#3e8c80" stroke="#2a7d6e" stroke-width="1"/>
<rect x="331.13" y="924.15" width="17.2" height="17.2" fill="#3e8c80" stroke="#2a7d6e" stroke-width="1"/>
<rect x="433.26" y="903.09" width="17.2" height="17.2" fill="#3e8c80" stroke="#2a7d6e" stroke-width="1"/>
<rect x="535.40" y="861.78" width="17.2" height="17.2" fill="#3e8c80" stroke="#2a7d6e" stroke-width="1"/>
<rect x="637.54" y="845.03" width="17.2" height="17.2" fill="#3e8c80" stroke="#2a7d6e" stroke-width="1"/>
<rect x="739.67" y="793.70" width="17.2" height="17.2" fill="#3e8c80" stroke="#2a7d6e" stroke-width="1"/>
<rect x="841.81" y="799.72" width="17.2" height="17.2" fill="#3e8c80" stroke="#2a7d6e" stroke-width="1"/>
<rect x="943.95" y="785.56" width="17.2" height="17.2" fill="#3e8c80" stroke="#2a7d6e" stroke-width="1"/>
<g stroke="#5fd0bd" stroke-width="1.7" fill="none">
<path d="M135.45 1000.90V997.36M128.45 1000.90H142.45M128.45 997.36H142.45"/>
<path d="M237.59 975.20V958.20M230.59 975.20H244.59M230.59 958.20H244.59"/>
<path d="M339.73 937.18V933.64M332.73 937.18H346.73M332.73 933.64H346.73"/>
<path d="M441.86 908.50V904.96M434.86 908.50H448.86M434.86 904.96H448.86"/>
<path d="M544.00 895.05V891.51M537.00 895.05H551.00M537.00 891.51H551.00"/>
<path d="M646.14 853.99V850.45M639.14 853.99H653.14M639.14 850.45H653.14"/>
<path d="M748.27 830.98V827.44M741.27 830.98H755.27M741.27 827.44H755.27"/>
<path d="M850.41 817.17V813.63M843.41 817.17H857.41M843.41 813.63H857.41"/>
<path d="M952.55 807.26V803.72M945.55 807.26H959.55M945.55 803.72H959.55"/>
</g>
<polyline points="135.45,999.13 237.59,966.70 339.73,935.41 441.86,906.73 544.00,893.28 646.14,852.22 748.27,829.21 850.41,815.40 952.55,805.49" fill="none" stroke="#5fe0c8" stroke-width="2.05"/>
<path d="M135.45 987.23L147.35 999.13L135.45 1011.03L123.55 999.13Z" fill="#74e6d6" stroke="#62e0cc" stroke-width="1"/>
<path d="M237.59 954.80L249.49 966.70L237.59 978.60L225.69 966.70Z" fill="#74e6d6" stroke="#62e0cc" stroke-width="1"/>
<path d="M339.73 923.51L351.63 935.41L339.73 947.31L327.83 935.41Z" fill="#74e6d6" stroke="#62e0cc" stroke-width="1"/>
<path d="M441.86 894.83L453.76 906.73L441.86 918.63L429.96 906.73Z" fill="#74e6d6" stroke="#62e0cc" stroke-width="1"/>
<path d="M544.00 881.38L555.90 893.28L544.00 905.18L532.10 893.28Z" fill="#74e6d6" stroke="#62e0cc" stroke-width="1"/>
<path d="M646.14 840.32L658.04 852.22L646.14 864.12L634.24 852.22Z" fill="#74e6d6" stroke="#62e0cc" stroke-width="1"/>
<path d="M748.27 817.31L760.17 829.21L748.27 841.11L736.37 829.21Z" fill="#74e6d6" stroke="#62e0cc" stroke-width="1"/>
<path d="M850.41 803.50L862.31 815.40L850.41 827.30L838.51 815.40Z" fill="#74e6d6" stroke="#62e0cc" stroke-width="1"/>
<path d="M952.55 793.59L964.45 805.49L952.55 817.39L940.65 805.49Z" fill="#74e6d6" stroke="#62e0cc" stroke-width="1"/>
<g stroke="#e8685a" stroke-width="1.7" fill="none">
<path d="M135.45 1139.17V1137.04M128.45 1139.17H142.45M128.45 1137.04H142.45"/>
<path d="M237.59 1096.83V1094.71M230.59 1096.83H244.59M230.59 1094.71H244.59"/>
<path d="M339.73 1120.19V1078.42M332.73 1120.19H346.73M332.73 1078.42H346.73"/>
<path d="M441.86 1134.00V1112.76M434.86 1134.00H448.86M434.86 1112.76H448.86"/>
<path d="M544.00 1113.82V1111.70M537.00 1113.82H551.00M537.00 1111.70H551.00"/>
<path d="M646.14 1112.76V1110.64M639.14 1112.76H653.14M639.14 1110.64H653.14"/>
<path d="M748.27 1121.08V1091.70M741.27 1121.08H755.27M741.27 1091.70H755.27"/>
<path d="M850.41 1130.64V1021.25M843.41 1130.64H857.41M843.41 1021.25H857.41"/>
<path d="M952.55 1095.91V1093.79M945.55 1095.91H959.55M945.55 1093.79H959.55"/>
</g>
<polyline points="135.45,1138.11 237.59,1095.77 339.73,1099.31 441.86,1123.38 544.00,1112.76 646.14,1111.70 748.27,1106.39 850.41,1075.94 952.55,1094.85" fill="none" stroke="#e85548" stroke-width="2.05" stroke-dasharray="13.16 3.29 2.06 3.29"/>
<rect x="126.85" y="1129.51" width="17.2" height="17.2" fill="#ee786b" stroke="#e85a48" stroke-width="1"/>
<rect x="228.99" y="1087.17" width="17.2" height="17.2" fill="#ee786b" stroke="#e85a48" stroke-width="1"/>
<rect x="331.13" y="1090.71" width="17.2" height="17.2" fill="#ee786b" stroke="#e85a48" stroke-width="1"/>
<rect x="433.26" y="1114.78" width="17.2" height="17.2" fill="#ee786b" stroke="#e85a48" stroke-width="1"/>
<rect x="535.40" y="1104.16" width="17.2" height="17.2" fill="#ee786b" stroke="#e85a48" stroke-width="1"/>
<rect x="637.54" y="1103.10" width="17.2" height="17.2" fill="#ee786b" stroke="#e85a48" stroke-width="1"/>
<rect x="739.67" y="1097.79" width="17.2" height="17.2" fill="#ee786b" stroke="#e85a48" stroke-width="1"/>
<rect x="841.81" y="1067.34" width="17.2" height="17.2" fill="#ee786b" stroke="#e85a48" stroke-width="1"/>
<rect x="943.95" y="1086.25" width="17.2" height="17.2" fill="#ee786b" stroke="#e85a48" stroke-width="1"/>
<g stroke="#f060c0" stroke-width="1.7" fill="none">
<path d="M135.45 1108.30V1106.18M128.45 1108.30H142.45M128.45 1106.18H142.45"/>
<path d="M237.59 1114.39V1112.26M230.59 1114.39H244.59M230.59 1112.26H244.59"/>
<path d="M339.73 1113.82V1111.70M332.73 1113.82H346.73M332.73 1111.70H346.73"/>
<path d="M441.86 1113.82V1111.70M434.86 1113.82H448.86M434.86 1111.70H448.86"/>
<path d="M544.00 1114.53V1112.41M537.00 1114.53H551.00M537.00 1112.41H551.00"/>
<path d="M646.14 1109.57V1107.45M639.14 1109.57H653.14M639.14 1107.45H653.14"/>
<path d="M748.27 1113.61V1111.49M741.27 1113.61H755.27M741.27 1111.49H755.27"/>
<path d="M850.41 1113.61V1111.49M843.41 1113.61H857.41M843.41 1111.49H857.41"/>
<path d="M952.55 1113.61V1111.49M945.55 1113.61H959.55M945.55 1111.49H959.55"/>
</g>
<polyline points="135.45,1107.24 237.59,1113.33 339.73,1112.76 441.86,1112.76 544.00,1113.47 646.14,1108.51 748.27,1112.55 850.41,1112.55 952.55,1112.55" fill="none" stroke="#f050c0" stroke-width="2.05"/>
<path d="M135.45 1095.34L147.35 1107.24L135.45 1119.14L123.55 1107.24Z" fill="#f566c6" stroke="#f04cbc" stroke-width="1"/>
<path d="M237.59 1101.43L249.49 1113.33L237.59 1125.23L225.69 1113.33Z" fill="#f566c6" stroke="#f04cbc" stroke-width="1"/>
<path d="M339.73 1100.86L351.63 1112.76L339.73 1124.66L327.83 1112.76Z" fill="#f566c6" stroke="#f04cbc" stroke-width="1"/>
<path d="M441.86 1100.86L453.76 1112.76L441.86 1124.66L429.96 1112.76Z" fill="#f566c6" stroke="#f04cbc" stroke-width="1"/>
<path d="M544.00 1101.57L555.90 1113.47L544.00 1125.37L532.10 1113.47Z" fill="#f566c6" stroke="#f04cbc" stroke-width="1"/>
<path d="M646.14 1096.61L658.04 1108.51L646.14 1120.41L634.24 1108.51Z" fill="#f566c6" stroke="#f04cbc" stroke-width="1"/>
<path d="M748.27 1100.65L760.17 1112.55L748.27 1124.45L736.37 1112.55Z" fill="#f566c6" stroke="#f04cbc" stroke-width="1"/>
<path d="M850.41 1100.65L862.31 1112.55L850.41 1124.45L838.51 1112.55Z" fill="#f566c6" stroke="#f04cbc" stroke-width="1"/>
<path d="M952.55 1100.65L964.45 1112.55L952.55 1124.45L940.65 1112.55Z" fill="#f566c6" stroke="#f04cbc" stroke-width="1"/>
<text transform="translate(436.05,855.50) scale(1.0301,1)" font-size="32.00" font-style="normal" fill="#0a0a80">MBL</text>
<text transform="translate(410.39,1096.00) scale(1.0490,1)" font-size="32.00" font-style="normal" fill="#b01c1c">Thermalized</text>
</svg>
</body></html>
